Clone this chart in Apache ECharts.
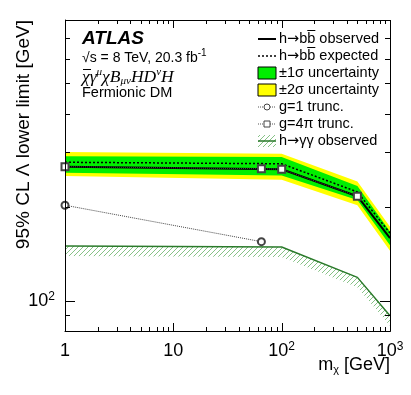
<!DOCTYPE html>
<html>
<head>
<meta charset="utf-8">
<script src="https://cdn.jsdelivr.net/npm/echarts@6/dist/echarts.min.js"></script>
<style>
  html, body { margin: 0; padding: 0; background: #fff; }
  #chart { width: 411px; height: 395px; }
</style>
</head>
<body>
<div id="chart"></div>
<script>
// h->bb limits and bands
const massPoints = [1, 100, 500, 1000];
const bbObserved = [270, 265, 217, 159];
const bbExpected = [279, 276, 224, 165];
const sigma1Up = [292, 290, 234, 167];
const sigma1Down = [258, 253, 211, 151];
const sigma2Up = [301, 297, 242, 173];
const sigma2Down = [252, 245, 203, 145];
// truncation markers
const g4piMass = [1, 65, 100, 500];
const g4piLimit = [270, 266, 265, 217];
const g1Mass = [1, 65];
const g1Limit = [203, 155];
// h->yy observed
const yyMass = [1, 100, 500, 1000];
const yyObserved = [150, 149, 119, 89.5];
// ticks
const xTicks = [1, 2, 3, 4, 5, 6, 7, 8, 9, 10, 20, 30, 40, 50, 60, 70, 80, 90,
  100, 200, 300, 400, 500, 600, 700, 800, 900, 1000];
const yTicks = [80, 90, 100, 200, 300, 400, 500, 600, 700, 800];
const xTickLabels = { 1: '1', 10: '10', 100: '10{sup|2}', 1000: '10{sup|3}' };
const yTickLabels = { 100: '10{sup|2}' };

const FONT = 'Liberation Sans';
const LEG_SIZE = 14.5;

// hatch pattern for h->yy
const hatch = document.createElement('canvas');
hatch.width = 5; hatch.height = 5;
const hctx = hatch.getContext('2d');
hctx.strokeStyle = '#86c286';
hctx.lineWidth = 1;
hctx.beginPath();
hctx.moveTo(-1, 6); hctx.lineTo(6, -1);
hctx.stroke();
const hatchFill = { image: hatch, repeat: 'repeat' };

// text measurement for the overline on b
const mctx = document.createElement('canvas').getContext('2d');
mctx.font = LEG_SIZE + 'px "' + FONT + '"';
const hW = mctx.measureText('h').width;
const bWidth = mctx.measureText('b').width;
mctx.font = LEG_SIZE + 'px "DejaVu Sans"';
const arW = mctx.measureText('\u2192').width;
const bStart = hW + arW + bWidth;

function isMajor(v) {
  const l = Math.log10(v);
  return Math.abs(l - Math.round(l)) < 1e-9;
}

function band(upper, lower, color) {
  return {
    type: 'custom',
    z: 1,
    clip: true,
    data: [[1, 100]],
    renderItem: function (params, api) {
      const pts = [];
      for (let i = 0; i < massPoints.length; i++) pts.push(api.coord([massPoints[i], upper[i]]));
      for (let i = massPoints.length - 1; i >= 0; i--) pts.push(api.coord([massPoints[i], lower[i]]));
      return { type: 'polygon', shape: { points: pts }, style: { fill: color } };
    }
  };
}

const myChart = echarts.init(document.getElementById('chart'));
window.onresize = myChart.resize;

// legend drawn by hand (ROOT style)
const legX1 = 258, legX2 = 276, legTx = 279;
const legY = [39, 56, 73, 90, 107, 124, 141];
const legText = ['h{ar|\u2192}bb observed', 'h{ar|\u2192}bb expected', '\u00b11\u03c3 uncertainty',
  '\u00b12\u03c3 uncertainty', 'g=1 trunc.', 'g=4\u03c0 trunc.', 'h{ar|\u2192}\u03b3\u03b3 observed'];
const graphics = [];
legText.forEach(function (t, i) {
  graphics.push({
    type: 'text', x: legTx, y: legY[i],
    style: { text: t, fontFamily: FONT, fontSize: LEG_SIZE, fill: '#000', verticalAlign: 'middle',
      rich: { ar: { fontFamily: 'DejaVu Sans', fontSize: LEG_SIZE } } }
  });
});
[0, 1].forEach(function (i) {
  graphics.push({ type: 'line', shape: { x1: legTx + bStart, y1: legY[i] - 8.5, x2: legTx + bStart + bWidth, y2: legY[i] - 8.5 },
    style: { stroke: '#000', lineWidth: 1 } });
});
graphics.push(
  { type: 'line', shape: { x1: legX1, y1: legY[0], x2: legX2, y2: legY[0] }, style: { stroke: '#000', lineWidth: 2 } },
  { type: 'line', shape: { x1: legX1, y1: legY[1], x2: legX2, y2: legY[1] }, style: { stroke: '#000', lineWidth: 1.5, lineDash: [2, 2] } },
  { type: 'rect', shape: { x: legX1, y: legY[2] - 6, width: 18, height: 12 }, style: { fill: '#00ee00', stroke: '#000', lineWidth: 1 } },
  { type: 'rect', shape: { x: legX1, y: legY[3] - 6, width: 18, height: 12 }, style: { fill: '#ffff00', stroke: '#000', lineWidth: 1 } },
  { type: 'line', shape: { x1: legX1, y1: legY[4], x2: legX2, y2: legY[4] }, style: { stroke: '#555', lineWidth: 1, lineDash: [1, 1] } },
  { type: 'circle', shape: { cx: 267, cy: legY[4], r: 3 }, style: { fill: '#fff', stroke: '#444', lineWidth: 1 } },
  { type: 'line', shape: { x1: legX1, y1: legY[5], x2: legX2, y2: legY[5] }, style: { stroke: '#555', lineWidth: 1, lineDash: [1, 1] } },
  { type: 'rect', shape: { x: 264, y: legY[5] - 3, width: 6, height: 6 }, style: { fill: '#fff', stroke: '#444', lineWidth: 1 } },
  { type: 'rect', shape: { x: legX1, y: legY[6] - 6, width: 18, height: 12 }, style: { fill: hatchFill } },
  { type: 'line', shape: { x1: legX1, y1: legY[6], x2: legX2, y2: legY[6] }, style: { stroke: '#2a7a2a', lineWidth: 1.5 } }
);
// ATLAS labels
graphics.push(
  { type: 'text', x: 82, y: 39, style: { text: 'ATLAS', fontFamily: FONT, fontSize: 19, fontWeight: 'bold', fontStyle: 'italic', fill: '#000', verticalAlign: 'middle' } },
  { type: 'text', x: 82, y: 58, style: { text: '\u221as = 8 TeV, 20.3 fb{sup|-1}', fontFamily: FONT, fontSize: 14, fill: '#000', verticalAlign: 'middle', lineHeight: 20,
    rich: { sup: { fontSize: 10, lineHeight: 12, verticalAlign: 'top' } } } },
  { type: 'text', x: 82, y: 77, style: { text: '\u03c7\u03b3{sup|\u03bc}\u03c7B{sub|\u03bc\u03bd}HD{sup|\u03bd}H', fontFamily: 'Liberation Serif', fontStyle: 'italic', fontSize: 17.5, fill: '#000', verticalAlign: 'middle', lineHeight: 20,
    rich: { sup: { fontSize: 11, lineHeight: 12, verticalAlign: 'top', fontFamily: 'Liberation Serif', fontStyle: 'italic' },
            sub: { fontSize: 11, lineHeight: 10, verticalAlign: 'bottom', fontFamily: 'Liberation Serif', fontStyle: 'italic' } } } },
  { type: 'line', shape: { x1: 83, y1: 69.5, x2: 91, y2: 69.5 }, style: { stroke: '#000', lineWidth: 1 } },
  { type: 'text', x: 82, y: 93, style: { text: 'Fermionic DM', fontFamily: FONT, fontSize: LEG_SIZE, fill: '#000', verticalAlign: 'middle' } },
  // axis titles
  { type: 'text', x: 24, y: 20, rotation: Math.PI / 2, style: { text: '95% CL \u039b lower limit [GeV]', fontFamily: FONT, fontSize: 19, fill: '#000', align: 'right', verticalAlign: 'middle' } },
  { type: 'text', x: 390, y: 365, style: { text: 'm{sub|\u03c7} [GeV]', fontFamily: FONT, fontSize: 18, fill: '#000', align: 'right', verticalAlign: 'middle', lineHeight: 20,
    rich: { sub: { fontSize: 11, lineHeight: 10, verticalAlign: 'bottom' } } } }
);

const option = {
  animation: false,
  grid: { left: 65, right: 21, top: 20, bottom: 64 },
  xAxis: {
    type: 'log', logBase: 10, min: 1, max: 1000, z: 10,
    axisLine: { show: true, lineStyle: { color: '#000', width: 1 } },
    axisTick: { show: false },
    splitLine: { show: false },
    axisLabel: {
      color: '#000', fontFamily: FONT, fontSize: 18, margin: 10, lineHeight: 20,
      formatter: function (v) { return xTickLabels[Math.round(v)] || ''; },
      rich: { sup: { fontSize: 12, lineHeight: 12, verticalAlign: 'top' } }
    }
  },
  yAxis: {
    type: 'log', logBase: 10, min: 80, max: 800, z: 10,
    axisLine: { show: true, lineStyle: { color: '#000', width: 1 } },
    axisTick: { show: false },
    splitLine: { show: false },
    axisLabel: {
      color: '#000', fontFamily: FONT, fontSize: 18, margin: 10, lineHeight: 20,
      formatter: function (v) { return yTickLabels[Math.round(v)] || ''; },
      rich: { sup: { fontSize: 12, lineHeight: 12, verticalAlign: 'top' } }
    }
  },
  series: [
    band(sigma2Up, sigma2Down, '#ffff00'),
    band(sigma1Up, sigma1Down, '#00ee00'),
    {
      type: 'custom', z: 2, clip: true, data: [[1, 100]],
      renderItem: function (params, api) {
        const top = yyMass.map(function (m, i) { return api.coord([m, yyObserved[i]]); });
        const bottom = top.slice().reverse().map(function (p) { return [p[0], p[1] + 10]; });
        return { type: 'polygon', shape: { points: top.concat(bottom) }, style: { fill: hatchFill } };
      }
    },
    {
      name: 'h->yy observed', type: 'line', z: 3, symbol: 'none',
      data: yyMass.map(function (m, i) { return [m, yyObserved[i]]; }),
      lineStyle: { color: '#2a7a2a', width: 1.5 }
    },
    {
      name: 'expected', type: 'line', z: 4, symbol: 'none',
      data: massPoints.map(function (m, i) { return [m, bbExpected[i]]; }),
      lineStyle: { color: '#000', width: 1.5, type: [2, 2] }
    },
    {
      name: 'observed', type: 'line', z: 4, symbol: 'none',
      data: massPoints.map(function (m, i) { return [m, bbObserved[i]]; }),
      lineStyle: { color: '#000', width: 2 }
    },
    {
      name: 'g=4pi', type: 'line', z: 5, symbol: 'emptyRect', symbolSize: 7,
      data: g4piMass.map(function (m, i) { return [m, g4piLimit[i]]; }),
      lineStyle: { color: '#444', width: 1, type: [1, 1] },
      itemStyle: { color: '#444', borderColor: '#444', borderWidth: 1 }
    },
    {
      name: 'g=1', type: 'line', z: 5, symbol: 'emptyCircle', symbolSize: 7,
      data: g1Mass.map(function (m, i) { return [m, g1Limit[i]]; }),
      lineStyle: { color: '#444', width: 1, type: [1, 1] },
      itemStyle: { color: '#444', borderColor: '#444', borderWidth: 1 }
    },
    {
      // ticks on all four sides
      type: 'custom', z: 10, silent: true,
      data: xTicks.map(function (v) { return [v, 100]; }),
      renderItem: function (params, api) {
        const v = api.value(0);
        const x = Math.round(api.coord([v, 100])[0]) + 0.5;
        const r = params.coordSys;
        const len = isMajor(v) ? 8 : 4;
        const b = r.y + r.height;
        return { type: 'group', children: [
          { type: 'line', shape: { x1: x, y1: b, x2: x, y2: b - len }, style: { stroke: '#000', lineWidth: 1 } },
          { type: 'line', shape: { x1: x, y1: r.y, x2: x, y2: r.y + len }, style: { stroke: '#000', lineWidth: 1 } }
        ] };
      }
    },
    {
      type: 'custom', z: 10, silent: true,
      data: yTicks.map(function (v) { return [1, v]; }),
      renderItem: function (params, api) {
        const v = api.value(1);
        const y = Math.round(api.coord([1, v])[1]) + 0.5;
        const r = params.coordSys;
        const len = isMajor(v) ? 10 : 5;
        const rt = r.x + r.width;
        return { type: 'group', children: [
          { type: 'line', shape: { x1: r.x, y1: y, x2: r.x + len, y2: y }, style: { stroke: '#000', lineWidth: 1 } },
          { type: 'line', shape: { x1: rt, y1: y, x2: rt - len, y2: y }, style: { stroke: '#000', lineWidth: 1 } }
        ] };
      }
    },
    {
      // frame
      type: 'custom', z: 10, silent: true, data: [[1, 100]],
      renderItem: function (params) {
        const r = params.coordSys;
        return { type: 'rect', shape: { x: r.x + 0.5, y: r.y + 0.5, width: r.width, height: r.height },
          style: { fill: 'none', stroke: '#000', lineWidth: 1 } };
      }
    }
  ],
  graphic: graphics
};
myChart.setOption(option);
</script>
</body>
</html>
